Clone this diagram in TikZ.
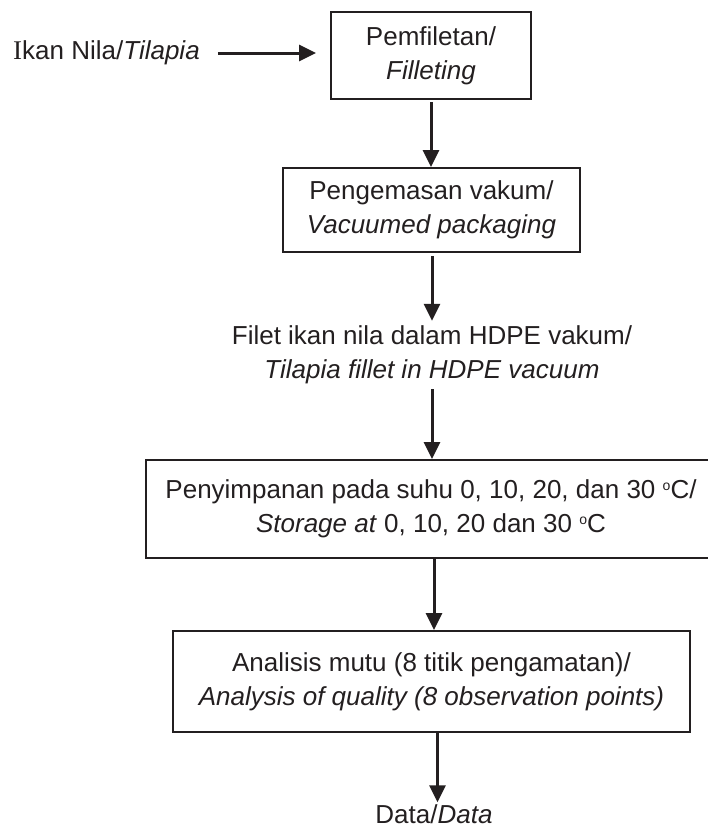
\documentclass[tikz,border=0pt]{standalone}
\usepackage{fontspec}
\setmainfont{Liberation Sans}
\newfontfamily\serifI{Liberation Serif}
\usetikzlibrary{arrows.meta}
\definecolor{ink}{HTML}{231F20}
\newcommand{\dego}{\raisebox{0.62ex}{\fontsize{14}{14}\selectfont o}}
\begin{document}
\begin{tikzpicture}[x=1pt,y=1pt,
  every node/.style={font=\fontsize{26}{34}\selectfont, text=ink, align=center},
  stepbox/.style={draw=ink, line width=2pt, inner sep=0pt, rectangle},
  plain/.style={inner sep=0pt, rectangle},
  conn/.style={draw=ink, line width=3pt, -{Triangle[length=17pt,width=16pt]}}
]
\useasboundingbox (0,0) rectangle (708,-831);
\node[plain, anchor=west] (ikan) at (13,-53) {{\serifI\fontsize{27}{34}\selectfont I}kan Nila/\textit{Tilapia}};
\node[stepbox, minimum width=200pt, minimum height=87pt] (fil) at (431,-55.5) {Pemfiletan/\\\textit{Filleting}};
\node[stepbox, minimum width=297pt, minimum height=84pt] (pack) at (431.5,-210) {Pengemasan vakum/\\\textit{Vacuumed packaging}};
\node[plain, minimum height=68pt] (filet) at (432,-355) {Filet ikan nila dalam HDPE vakum/\\\textit{Tilapia fillet in HDPE vacuum}};
\node[stepbox, minimum width=570pt, minimum height=98pt] (store) at (431,-509) {Penyimpanan pada suhu 0, 10, 20, dan 30 \dego C/\\\textit{Storage at} 0, 10, 20 dan 30 \dego C};
\node[stepbox, minimum width=517pt, minimum height=101pt] (anal) at (431.5,-681.5) {Analisis mutu (8 titik pengamatan)/\\\textit{Analysis of quality (8 observation points)}};
\node[inner sep=2pt] (data) at (434,-814) {Data/\textit{Data}};

\draw[conn, shorten <=18pt, shorten >=14pt] (ikan.east) -- (ikan.east -| fil.west);
\draw[conn, shorten <=2pt] (fil.south) -- (fil.south |- pack.north);
\draw[conn, shorten <=3pt] ([xshift=0.5pt]pack.south) -- ([xshift=0.5pt]pack.south |- filet.north);
\draw[conn] (filet.south) -- (filet.south |- store.north);
\draw[conn] ([xshift=3pt]store.south) -- ([xshift=3pt]store.south |- anal.north);
\draw[conn] ([xshift=6pt]anal.south) -- ([xshift=6pt]anal.south |- data.north);
\end{tikzpicture}
\end{document}
